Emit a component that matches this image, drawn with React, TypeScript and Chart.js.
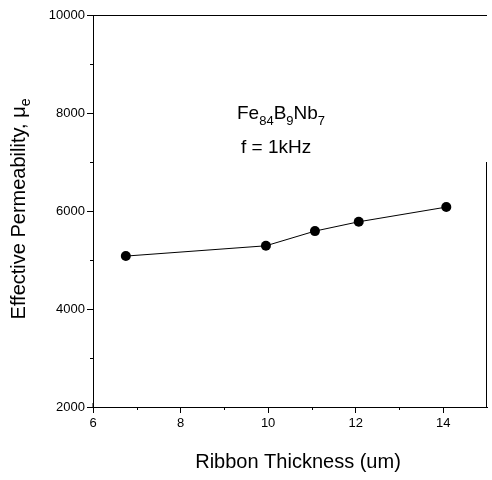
import React, { useEffect, useRef } from "react";
import { Chart, registerables } from "chart.js";

Chart.register(...registerables);

const thickness = [6.75, 9.95, 11.07, 12.07, 14.07];
const permeability = [5080, 5290, 5590, 5780, 6080];
const xTicks = [6, 8, 10, 12, 14];
const xMinorTicks = [7, 9, 11, 13];
const yTicks = [2000, 4000, 6000, 8000, 10000];
const yMinorTicks = [3000, 5000, 7000, 9000];
const xTitle = "Ribbon Thickness (um)";
const yTitleMain = "Effective Permeability, μ";
const yTitleSub = "e";
const annotationLine1: [string, boolean][] = [
  ["Fe", false],
  ["84", true],
  ["B", false],
  ["9", true],
  ["Nb", false],
  ["7", true],
];
const annotationLine2 = "f = 1kHz";

const FONT = "'Liberation Sans', Arial, Helvetica, sans-serif";

function drawRich(ctx: CanvasRenderingContext2D, parts: [string, boolean][], x: number, y: number, size: number, subSize: number, subDrop: number) {
  let cx = x;
  for (const [t, sub] of parts) {
    ctx.font = `${sub ? subSize : size}px ${FONT}`;
    ctx.fillText(t, cx, sub ? y + subDrop : y);
    cx += ctx.measureText(t).width;
  }
  return cx - x;
}

function measureRich(ctx: CanvasRenderingContext2D, parts: [string, boolean][], size: number, subSize: number) {
  let w = 0;
  for (const [t, sub] of parts) {
    ctx.font = `${sub ? subSize : size}px ${FONT}`;
    w += ctx.measureText(t).width;
  }
  return w;
}

const decorPlugin = {
  id: "decor",
  afterDraw(chart: any) {
    const { ctx, chartArea } = chart;
    const xs = chart.scales.x;
    const ys = chart.scales.y;
    ctx.save();
    ctx.strokeStyle = "#000";
    ctx.fillStyle = "#000";
    ctx.lineWidth = 1;
    // top border
    ctx.beginPath();
    ctx.moveTo(chartArea.left, chartArea.top + 0.5);
    ctx.lineTo(chartArea.right, chartArea.top + 0.5);
    ctx.stroke();
    // partial right border
    ctx.beginPath();
    ctx.moveTo(chartArea.right - 0.5, ys.getPixelForValue(7000));
    ctx.lineTo(chartArea.right - 0.5, chartArea.bottom);
    ctx.stroke();
    // minor ticks
    ctx.beginPath();
    for (const v of yMinorTicks) {
      const py = Math.round(ys.getPixelForValue(v)) + 0.5;
      ctx.moveTo(chartArea.left - 3, py);
      ctx.lineTo(chartArea.left, py);
    }
    for (const v of xMinorTicks) {
      const px = Math.round(xs.getPixelForValue(v)) + 0.5;
      ctx.moveTo(px, chartArea.bottom);
      ctx.lineTo(px, chartArea.bottom + 3);
    }
    ctx.moveTo(chartArea.left, chartArea.bottom - 4);
    ctx.lineTo(chartArea.left, chartArea.bottom);
    ctx.stroke();

    // annotation
    ctx.textBaseline = "alphabetic";
    ctx.textAlign = "left";
    drawRich(ctx, annotationLine1, 237, 119, 19, 13, 6);
    ctx.font = `19px ${FONT}`;
    ctx.fillText(annotationLine2, 241, 153);

    // x title
    ctx.font = `20px ${FONT}`;
    ctx.textAlign = "center";
    ctx.fillText(xTitle, 298, 468);

    // y title (rotated)
    ctx.save();
    ctx.translate(25, 209);
    ctx.rotate(-Math.PI / 2);
    const parts: [string, boolean][] = [[yTitleMain, false], [yTitleSub, true]];
    const w = measureRich(ctx, parts, 20, 14);
    ctx.textAlign = "left";
    drawRich(ctx, parts, -w / 2, 0, 20, 14, 5);
    ctx.restore();

    ctx.restore();
  },
};

export default function App() {
  const ref = useRef<HTMLCanvasElement | null>(null);
  useEffect(() => {
    document.body.style.margin = "0";
    const canvas = ref.current;
    if (!canvas) return;
    const chart = new Chart(canvas, {
      type: "scatter",
      data: {
        datasets: [
          {
            data: thickness.map((x, i) => ({ x, y: permeability[i] })),
            showLine: true,
            borderColor: "#000",
            borderWidth: 1,
            backgroundColor: "#000",
            pointRadius: 5,
            pointBorderWidth: 0,
            pointBackgroundColor: "#000",
          },
        ],
      },
      options: {
        responsive: false,
        animation: false,
        layout: { padding: { top: 15, right: 4, left: 0, bottom: 0 } },
        plugins: { legend: { display: false }, tooltip: { enabled: false } },
        scales: {
          x: {
            type: "linear",
            min: 6,
            max: 15,
            afterBuildTicks: (s: any) => {
              s.ticks = xTicks.map((v) => ({ value: v }));
            },
            afterFit: (s: any) => {
              s.height = 73;
            },
            ticks: {
              color: "#000",
              font: { family: FONT, size: 13 },
              padding: 3,
              maxRotation: 0,
              autoSkip: false,
              callback: (v: any) => String(v),
            },
            grid: { drawOnChartArea: false, color: "#000", tickLength: 6 },
            border: { display: true, color: "#000", width: 1 },
          },
          y: {
            type: "linear",
            min: 2000,
            max: 10000,
            afterBuildTicks: (s: any) => {
              s.ticks = yTicks.map((v) => ({ value: v }));
            },
            afterFit: (s: any) => {
              s.width = 93;
            },
            ticks: {
              color: "#000",
              font: { family: FONT, size: 13 },
              padding: 2,
              autoSkip: false,
              callback: (v: any) => String(v),
            },
            grid: { drawOnChartArea: false, color: "#000", tickLength: 6 },
            border: { display: true, color: "#000", width: 1 },
          },
        },
      },
      plugins: [decorPlugin],
    } as any);
    return () => chart.destroy();
  }, []);
  return (
    <div style={{ width: 492, height: 480 }}>
      <canvas ref={ref} width={492} height={480} />
    </div>
  );
}
